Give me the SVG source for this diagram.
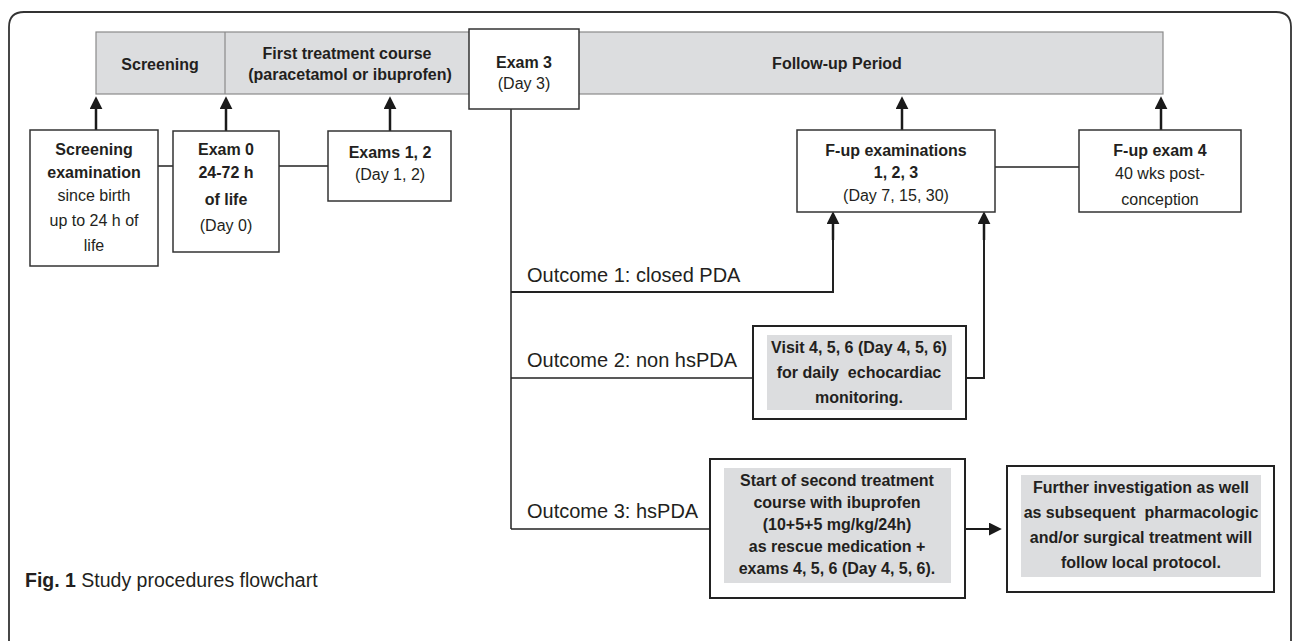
<svg xmlns="http://www.w3.org/2000/svg" width="1292" height="641" viewBox="0 0 1292 641">
<defs>
<marker id="ah" viewBox="0 0 12 12" refX="2" refY="6" markerWidth="13" markerHeight="13" orient="auto" markerUnits="userSpaceOnUse">
<path d="M0,0 L12,6 L0,12 z" fill="#1a1a1a"/>
</marker>
<clipPath id="clip4"><rect x="1079" y="130" width="162" height="82"/></clipPath>
<style>
.t{font-family:"Liberation Sans",Arial,sans-serif;fill:#231f20;text-anchor:middle;font-size:16px;white-space:pre}
.b{font-weight:bold}
.box{fill:#fff;stroke:#333;stroke-width:1.5}
.boxk{fill:#fff;stroke:#222;stroke-width:2}
.inner{fill:#dcdddf;stroke:none}
.ln{fill:none;stroke:#222;stroke-width:1.5}
.arr{fill:none;stroke:#1a1a1a;stroke-width:2.5;marker-end:url(#ah)}
.out{font-family:"Liberation Sans",Arial,sans-serif;fill:#231f20;font-size:20px}
</style>
</defs>
<rect width="1292" height="641" fill="#fff"/>
<path d="M9,650 L9,27 Q9,12 24,12 L1276,12 Q1291,12 1291,27 L1291,650" fill="none" stroke="#333" stroke-width="1.8"/>

<g id="band">
<rect x="96" y="32" width="1067" height="62" fill="#dcdddf" stroke="#8a8a8a" stroke-width="1.2"/>
<line x1="225" y1="32" x2="225" y2="94" stroke="#8a8a8a" stroke-width="1.2"/>
<text class="t b" x="160" y="70">Screening</text>
<text class="t b" x="347" y="59">First treatment course</text>
<text class="t b" x="350" y="80">(paracetamol or ibuprofen)</text>
<text class="t b" x="837" y="69">Follow-up Period</text>
</g>

<g id="connectors">
<line class="arr" x1="96" y1="130" x2="96" y2="107"/>
<line class="arr" x1="226" y1="131" x2="226" y2="107"/>
<line class="arr" x1="390" y1="131" x2="390" y2="107"/>
<line class="arr" x1="902" y1="130" x2="902" y2="107"/>
<line class="arr" x1="1161" y1="130" x2="1161" y2="107"/>
<line class="ln" x1="158" y1="166" x2="173" y2="166"/>
<line class="ln" x1="279" y1="166" x2="328" y2="166"/>
<line class="ln" x1="995" y1="167" x2="1079" y2="167"/>
<line class="ln" x1="511" y1="109" x2="511" y2="529"/>
<line class="ln" x1="511" y1="529" x2="710" y2="529"/>
<line class="ln" x1="511" y1="378" x2="753" y2="378"/>
<polyline class="ln" points="511,292 833,292 833,230" style="stroke-width:2"/>
<line class="arr" x1="833" y1="240" x2="833" y2="222"/>
<polyline class="ln" points="966,378 984,378 984,230" style="stroke-width:2"/>
<line class="arr" x1="984" y1="240" x2="984" y2="222"/>
<line class="arr" x1="965" y1="529" x2="991" y2="529" style="stroke-width:2"/>
<text class="out" x="527" y="282">Outcome 1: closed PDA</text>
<text class="out" x="527" y="367">Outcome 2: non hsPDA</text>
<text class="out" x="527" y="518">Outcome 3: hsPDA</text>
</g>

<g id="exam3">
<rect class="box" x="469" y="29" width="110" height="80"/>
<text class="t b" x="524" y="68">Exam 3</text>
<text class="t" x="524" y="89">(Day 3)</text>
</g>

<g id="screening-exam">
<rect class="box" x="30" y="130" width="128" height="136"/>
<text class="t b" x="94" y="155">Screening</text>
<text class="t b" x="94" y="178">examination</text>
<text class="t" x="94" y="201">since birth</text>
<text class="t" x="94" y="226">up to 24 h of</text>
<text class="t" x="94" y="251">life</text>
</g>

<g id="exam0">
<rect class="box" x="173" y="131" width="106" height="121"/>
<text class="t b" x="226" y="155">Exam 0</text>
<text class="t b" x="226" y="178">24-72 h</text>
<text class="t b" x="226" y="205">of life</text>
<text class="t" x="226" y="231">(Day 0)</text>
</g>

<g id="exams12">
<rect class="box" x="328" y="131" width="123" height="70"/>
<text class="t b" x="390" y="158">Exams 1, 2</text>
<text class="t" x="390" y="180">(Day 1, 2)</text>
</g>

<g id="fup123">
<rect class="box" x="797" y="130" width="198" height="82"/>
<text class="t b" x="896" y="156">F-up examinations</text>
<text class="t b" x="896" y="178">1, 2, 3</text>
<text class="t" x="896" y="201">(Day 7, 15, 30)</text>
</g>

<g id="fup4">
<rect class="box" x="1079" y="130" width="162" height="82"/>
<text class="t b" x="1160" y="156">F-up exam 4</text>
<text class="t" x="1160" y="179">40 wks post-</text>
<text class="t" x="1160" y="205" clip-path="url(#clip4)">conception</text>
</g>

<g id="visit456">
<rect class="boxk" x="753" y="326" width="213" height="93"/>
<rect class="inner" x="767" y="335" width="185" height="75"/>
<text class="t b" x="859" y="353">Visit 4, 5, 6 (Day 4, 5, 6)</text>
<text class="t b" x="859" y="378">for daily  echocardiac</text>
<text class="t b" x="859" y="403">monitoring.</text>
</g>

<g id="second-treatment">
<rect class="boxk" x="710" y="459" width="255" height="139"/>
<rect class="inner" x="724" y="468" width="227" height="115"/>
<text class="t b" x="837" y="486">Start of second treatment</text>
<text class="t b" x="837" y="508">course with ibuprofen</text>
<text class="t b" x="837" y="530">(10+5+5 mg/kg/24h)</text>
<text class="t b" x="837" y="552">as rescue medication +</text>
<text class="t b" x="837" y="574">exams 4, 5, 6 (Day 4, 5, 6).</text>
</g>

<g id="further">
<rect class="boxk" x="1007" y="466" width="267" height="126"/>
<rect class="inner" x="1021" y="475" width="240" height="102"/>
<text class="t b" x="1141" y="493">Further investigation as well</text>
<text class="t b" x="1141" y="518">as subsequent  pharmacologic</text>
<text class="t b" x="1141" y="543">and/or surgical treatment will</text>
<text class="t b" x="1141" y="568">follow local protocol.</text>
</g>

<text x="25" y="587" style="font-family:'Liberation Sans',Arial,sans-serif;font-size:19.5px;fill:#231f20"><tspan font-weight="bold">Fig. 1</tspan> Study procedures flowchart</text>
</svg>
